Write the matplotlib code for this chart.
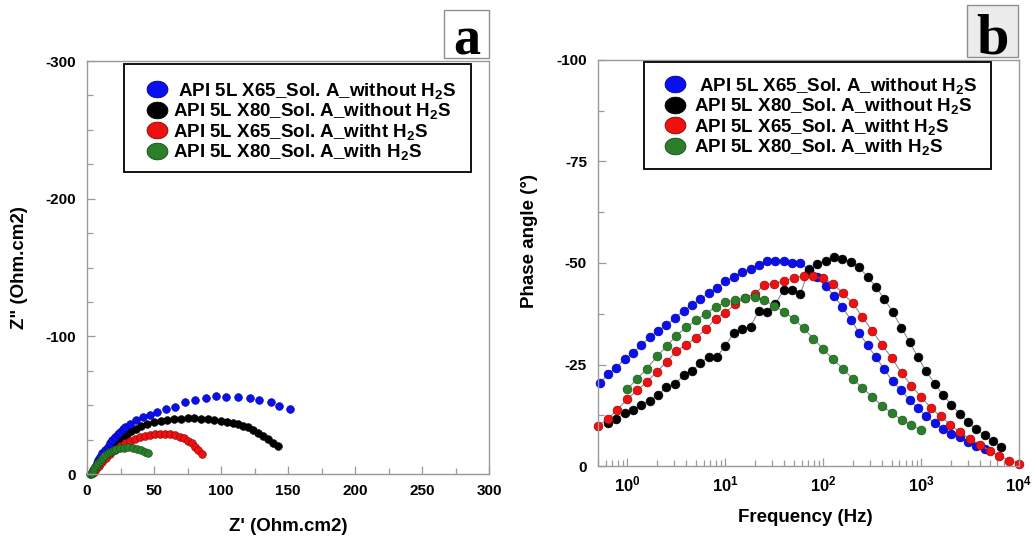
import numpy as np
import matplotlib
matplotlib.use("Agg")
import matplotlib.pyplot as plt
from matplotlib.lines import Line2D
from matplotlib.path import Path
from matplotlib.patches import Rectangle
from matplotlib.ticker import MultipleLocator, LogLocator, NullFormatter

plt.rcParams["font.family"] = ["Liberation Sans", "DejaVu Sans"]
plt.rcParams["font.weight"] = "bold"
plt.rcParams["axes.unicode_minus"] = False
plt.rcParams["mathtext.fontset"] = "custom"
plt.rcParams["mathtext.rm"] = "Liberation Sans"
plt.rcParams["mathtext.bf"] = "Liberation Sans:bold"
plt.rcParams["mathtext.it"] = "Liberation Sans:italic"

# ---------------- series labels ----------------
LABELS = [
    " API 5L X65_Sol. A_without H$_\\mathbf{2}$S",
    "API 5L X80_Sol. A_without H$_\\mathbf{2}$S",
    "API 5L X65_Sol. A_witht H$_\\mathbf{2}$S",
    "API 5L X80_Sol. A_with H$_\\mathbf{2}$S",
]
COLORS = ["#0a0ff0", "#000000", "#ee1111", "#2b7f2b"]
EDGES = ["#00008a", "#000000", "#8a0000", "#144a14"]

# ---------------- (a) Nyquist data: Z' and Z'' (Ohm.cm2) ----------------
ZRE_BLUE = [3.5, 4.7, 6.0, 7.2, 8.5, 9.7, 11.5, 13.4, 15.3, 17.2, 19.0, 20.9, 22.8, 24.6,
            26.5, 28.4, 32.1, 36.6, 41.5, 47.0, 52.5, 59.0, 65.7, 73.1, 80.6, 88.6, 96.3,
            103.5, 112.9, 121.6, 128.6, 137.3, 143.5, 151.5]
ZIM_BLUE = [-0.5, -2.9, -5.3, -7.7, -10.2, -12.6, -15.0, -17.4, -19.9, -22.3, -24.5, -26.6,
            -28.8, -30.8, -32.4, -33.9, -36.3, -39.2, -41.2, -42.9, -45.3, -47.2, -48.9,
            -52.1, -53.8, -55.2, -56.4, -55.7, -55.9, -55.4, -53.8, -52.1, -49.4, -47.4]

ZRE_BLACK = [3.5, 5, 6.5, 8, 10, 12, 14, 16.5, 19, 21.5, 24, 27, 30, 33, 36.5, 40, 45, 50,
             55, 60, 65, 70, 75, 80, 85, 90, 95, 100, 104.5, 108.7, 112.9, 116.7, 120.4,
             124.1, 127.8, 131.6, 135.3, 139.0, 142.8]
ZIM_BLACK = [-0.5, -2.5, -4.5, -6.5, -9, -11.5, -14, -17, -19.5, -22, -24.3, -26.8, -29,
             -31, -33, -34.8, -36.5, -38, -38.5, -39.5, -39.6, -40.2, -40.5, -40.4, -40.2,
             -39.8, -39.2, -38.5, -37.8, -36.8, -36.1, -34.9, -33.9, -32.0, -30.0, -27.6,
             -25.2, -22.8, -20.3]

ZRE_RED = [4.5, 5.5, 7.0, 9.0, 11.5, 14.5, 17.5, 20.9, 24.6, 28.4, 32.1, 35.8, 39.6, 43.3,
           47.0, 50.7, 54.5, 58.2, 61.9, 65.7, 69.4, 72.4, 75.6, 78.1, 80.6, 83.1, 85.6]
ZIM_RED = [-0.8, -1.8, -3.5, -5.8, -8.5, -11.5, -14.5, -17.5, -20.3, -22.3, -24.0, -25.4,
           -26.6, -27.6, -28.3, -28.8, -29.1, -29.1, -29.1, -28.3, -27.1, -25.9, -24.0,
           -22.3, -19.9, -17.4, -14.5]

ZRE_GREEN = [2.5, 3.0, 3.5, 4.0, 4.7, 5.5, 6.3, 7.2, 8.4, 9.7, 10.9, 12.2, 13.8, 15.4, 16.9,
             18.4, 20.0, 21.6, 24.6, 27.6, 30.8, 34.1, 37.1, 40.3, 43.3, 45.8]
ZIM_GREEN = [0.0, -0.3, -0.6, -1.0, -2.2, -3.4, -5.0, -6.5, -8.1, -9.7, -11.2, -12.6, -13.8,
             -15.0, -15.9, -16.7, -17.3, -17.9, -18.6, -19.1, -19.4, -18.9, -18.2, -17.4,
             -16.2, -15.0]

# ---------------- (b) Bode phase data: frequency (Hz) and phase angle (deg) ----------------
FREQ_BLUE = [0.526, 0.63, 0.768, 0.933, 1.13, 1.38, 1.69, 2.06, 2.50, 3.07, 3.74, 4.55, 5.53,
             6.73, 8.18, 10.0, 12.2, 14.9, 18.1, 22.0, 26.6, 32.3, 39.3, 48.2, 58.2, 71.3,
             86.1, 106, 129, 157, 192, 233, 284, 345, 420, 511, 627, 762, 927, 1127, 1374,
             1671, 2032, 2472, 3008, 3663, 4454]
PHASE_BLUE = [-20.5, -22.6, -24.2, -26.3, -27.8, -29.7, -31.7, -33.3, -34.7, -36.4, -38.3,
              -39.6, -41.1, -42.5, -43.9, -45.5, -46.6, -47.8, -48.6, -49.5, -50.4, -50.6,
              -50.5, -50.1, -49.9, -48.4, -46.5, -44.4, -41.9, -39.1, -36.0, -32.8, -29.7,
              -26.8, -23.8, -20.9, -18.6, -16.3, -14.2, -12.3, -10.5, -9.2, -7.9, -7.1,
              -6.0, -5.0, -4.1]

FREQ_BLACK = [0.63, 0.768, 0.933, 1.13, 1.38, 1.69, 2.06, 2.50, 3.07, 3.74, 4.55, 5.53, 6.73,
              8.18, 10.0, 12.2, 14.9, 18.1, 22.0, 26.6, 32.3, 39.3, 48.2, 58.2, 71.3, 86.1,
              106, 129, 157, 192, 233, 284, 345, 420, 511, 627, 762, 927, 1127, 1374, 1671,
              2032, 2472, 3008, 3663, 4454, 5425, 6608]
PHASE_BLACK = [-10.7, -11.6, -13.0, -13.8, -15.1, -16.1, -17.5, -19.5, -20.1, -22.4, -23.4,
               -25.3, -26.9, -26.9, -29.6, -32.8, -33.7, -34.3, -38.3, -37.9, -39.8, -43.3,
               -43.3, -42.3, -48.3, -49.8, -50.6, -51.4, -51.0, -50.3, -48.9, -46.6, -44.1,
               -41.2, -38.0, -34.1, -30.5, -26.8, -23.3, -20.3, -17.6, -15.1, -12.9, -10.8,
               -9.0, -7.6, -6.1, -4.7]

FREQ_RED = [0.5, 0.63, 0.79, 1.0, 1.26, 1.58, 2.0, 2.51, 3.16, 3.98, 5.01, 6.31, 7.94, 10.0,
            12.6, 15.8, 20.0, 25.1, 31.6, 39.8, 50.1, 63.1, 79.4, 100, 126, 158, 200, 251,
            316, 398, 501, 631, 794, 1000, 1259, 1585, 1995, 2512, 3162, 3981, 5012, 6310,
            7943, 10000]
PHASE_RED = [-9.95, -11.6, -13.9, -16.6, -18.6, -20.8, -23.2, -25.7, -28.3, -29.9, -31.6,
             -33.7, -36.3, -37.8, -39.8, -41.5, -42.4, -44.7, -44.9, -45.6, -46.4, -46.8,
             -46.7, -46.2, -44.9, -42.6, -40.1, -36.7, -33.3, -29.9, -26.6, -22.9, -19.8,
             -17.0, -14.3, -12.2, -10.1, -8.3, -6.7, -5.2, -3.8, -2.5, -1.3, -0.6]

FREQ_GREEN = [1.0, 1.26, 1.58, 2.0, 2.51, 3.16, 3.98, 5.01, 6.31, 7.94, 10.0, 12.6, 15.8,
              20.0, 25.1, 31.6, 39.8, 50.1, 63.1, 79.4, 100, 126, 158, 200, 251, 316, 398,
              501, 631, 794, 1000]
PHASE_GREEN = [-19.0, -21.5, -24.0, -27.0, -29.5, -32.1, -34.2, -35.9, -37.5, -39.2, -40.3,
               -40.9, -41.5, -41.7, -40.9, -39.4, -38.0, -36.3, -33.9, -31.4, -28.7, -26.3,
               -24.0, -21.5, -19.2, -17.1, -14.8, -13.1, -11.4, -10.1, -8.8]

NYQ = [(ZRE_BLUE, ZIM_BLUE), (ZRE_BLACK, ZIM_BLACK), (ZRE_RED, ZIM_RED), (ZRE_GREEN, ZIM_GREEN)]
BODE = [(FREQ_BLUE, PHASE_BLUE), (FREQ_BLACK, PHASE_BLACK), (FREQ_RED, PHASE_RED),
        (FREQ_GREEN, PHASE_GREEN)]

W, H = 1035, 538
fig = plt.figure(figsize=(W / 100, H / 100), dpi=100)
fig.patch.set_facecolor("white")

ax1 = fig.add_axes([87 / W, (H - 474) / H, 402 / W, 413 / H])
ax2 = fig.add_axes([598 / W, (H - 466) / H, 421 / W, 406 / H])

SPINE = "#9a9a9a"
TICKFONT = dict(fontsize=11, fontweight="bold")
LABELFONT = dict(fontsize=13.5, fontweight="bold")


def style_axes(ax):
    for s in ax.spines.values():
        s.set_color(SPINE)
        s.set_linewidth(1.0)
    ax.tick_params(which="both", direction="in", colors=SPINE, labelcolor="black",
                   top=False, right=False, width=0.9)
    ax.tick_params(which="major", length=6)
    ax.tick_params(which="minor", length=4)
    ax.tick_params(axis="x", pad=7)
    ax.tick_params(axis="y", pad=8)


# ---------------- panel (a) ----------------
# X80 (black) arc is drawn underneath so the X65 arc stays on top near the origin
NYQ_ORDER = [1, 0, 2, 3]
for i in NYQ_ORDER:
    zr, zi = NYQ[i]
    ax1.plot(zr, zi, ls="none", marker="o", ms=5.6, mfc=COLORS[i], mec=EDGES[i], mew=0.4,
             clip_on=False)

ax1.set_xlim(0, 300)
ax1.set_ylim(0, -300)
ax1.set_xticks([0, 50, 100, 150, 200, 250, 300])
ax1.set_xticklabels(["0", "50", "100", "150", "200", "250", "300"], **TICKFONT)
ax1.set_yticks([0, -100, -200, -300])
ax1.set_yticklabels(["0", "-100", "-200", "-300"], **TICKFONT)
ax1.xaxis.set_minor_locator(MultipleLocator(25))
ax1.yaxis.set_minor_locator(MultipleLocator(25))
style_axes(ax1)
ax1.set_xlabel("Z' (Ohm.cm2)", va="center", **LABELFONT)
ax1.set_ylabel('Z" (Ohm.cm2)', va="center", **LABELFONT)
ax1.xaxis.set_label_coords(0.5, -0.126)
ax1.yaxis.set_label_coords(-0.168, 0.50)

# ---------------- panel (b) ----------------
for (f, p), c, ec in zip(BODE, COLORS, EDGES):
    ax2.plot(f, p, color="#8c8c8c", lw=0.8, marker="o", ms=6.4, mfc=c, mec=ec, mew=0.4,
             clip_on=False)

ax2.set_xscale("log")
ax2.set_xlim(0.5, 1e4)
ax2.set_ylim(0, -100)
ax2.set_xticks([1, 10, 100, 1000, 10000])
ax2.set_xticklabels([r"$\mathbf{10^{0}}$", r"$\mathbf{10^{1}}$", r"$\mathbf{10^{2}}$",
                     r"$\mathbf{10^{3}}$", r"$\mathbf{10^{4}}$"], fontsize=12)
ax2.xaxis.set_minor_locator(LogLocator(base=10, subs=np.arange(2, 10)))
ax2.xaxis.set_minor_formatter(NullFormatter())
ax2.set_yticks([0, -25, -50, -75, -100])
ax2.set_yticklabels(["0", "-25", "-50", "-75", "-100"], **TICKFONT)
ax2.yaxis.set_minor_locator(MultipleLocator(12.5))
style_axes(ax2)
ax2.tick_params(axis="x", pad=6)
ax2.set_xlabel("Frequency (Hz)", va="center", **LABELFONT)
ax2.set_ylabel("Phase angle (°)", va="center", **LABELFONT)
ax2.xaxis.set_label_coords(0.492, -0.127)
ax2.yaxis.set_label_coords(-0.163, 0.555)

# ---------------- legends (boxed, frameless entries) ----------------
_t = np.linspace(0, 2 * np.pi, 64)
ELLIPSE = Path(np.column_stack([np.cos(_t), 0.8 * np.sin(_t)]), closed=True)
LEG_FS = 13.5


def px_to_axes(ax, x, y):
    """Figure pixel (from top-left) -> axes fraction."""
    inv = ax.transAxes.inverted()
    return inv.transform(fig.transFigure.transform((x / W, 1 - y / H)))


def add_legend(ax, box, marker_x, text_x, row_mid):
    (bx0, by0), (bx1, by1) = px_to_axes(ax, box[0], box[3]), px_to_axes(ax, box[2], box[1])
    ax.add_patch(Rectangle((bx0, by0), bx1 - bx0, by1 - by0, transform=ax.transAxes,
                           facecolor="white", edgecolor="black", linewidth=1.3,
                           zorder=4.5, clip_on=False))
    fs_px = LEG_FS * 100 / 72
    hl = 1.0
    anchor_px = marker_x - hl * fs_px / 2
    pad = (text_x - anchor_px) / fs_px - hl
    ax_anchor = px_to_axes(ax, anchor_px, row_mid)
    handles = [Line2D([], [], ls="none", marker=ELLIPSE, ms=15, mfc=c, mec=ec, mew=0.6)
               for c, ec in zip(COLORS, EDGES)]
    leg = ax.legend(handles, LABELS, loc="center left", bbox_to_anchor=tuple(ax_anchor),
                    borderaxespad=0, borderpad=0, frameon=False, handlelength=hl,
                    handletextpad=pad, labelspacing=0.03,
                    prop=dict(family="Liberation Sans", weight="bold", size=LEG_FS))
    leg.set_zorder(5)
    return leg


add_legend(ax1, (124, 64, 471, 172), 157, 173, 121.5)
add_legend(ax2, (644, 62, 991, 169), 675, 694, 116.5)

# ---------------- panel letters ----------------
def panel_letter(x0, y0, x1, y1, letter, face, baseline, size):
    fig.patches.append(Rectangle((x0 / W, 1 - y1 / H), (x1 - x0) / W, (y1 - y0) / H,
                                 transform=fig.transFigure, facecolor=face,
                                 edgecolor="#8f8f8f", linewidth=1.0))
    fig.text((x0 + x1) / 2 / W, 1 - baseline / H, letter, ha="center", va="baseline",
             fontsize=size, fontweight="bold", family="Liberation Serif")


panel_letter(444, 10, 489, 58, "a", "white", 55, 39)
panel_letter(967, 5, 1018, 57, "b", "#ececec", 53.5, 42)

fig.savefig("out.png", dpi=100)
